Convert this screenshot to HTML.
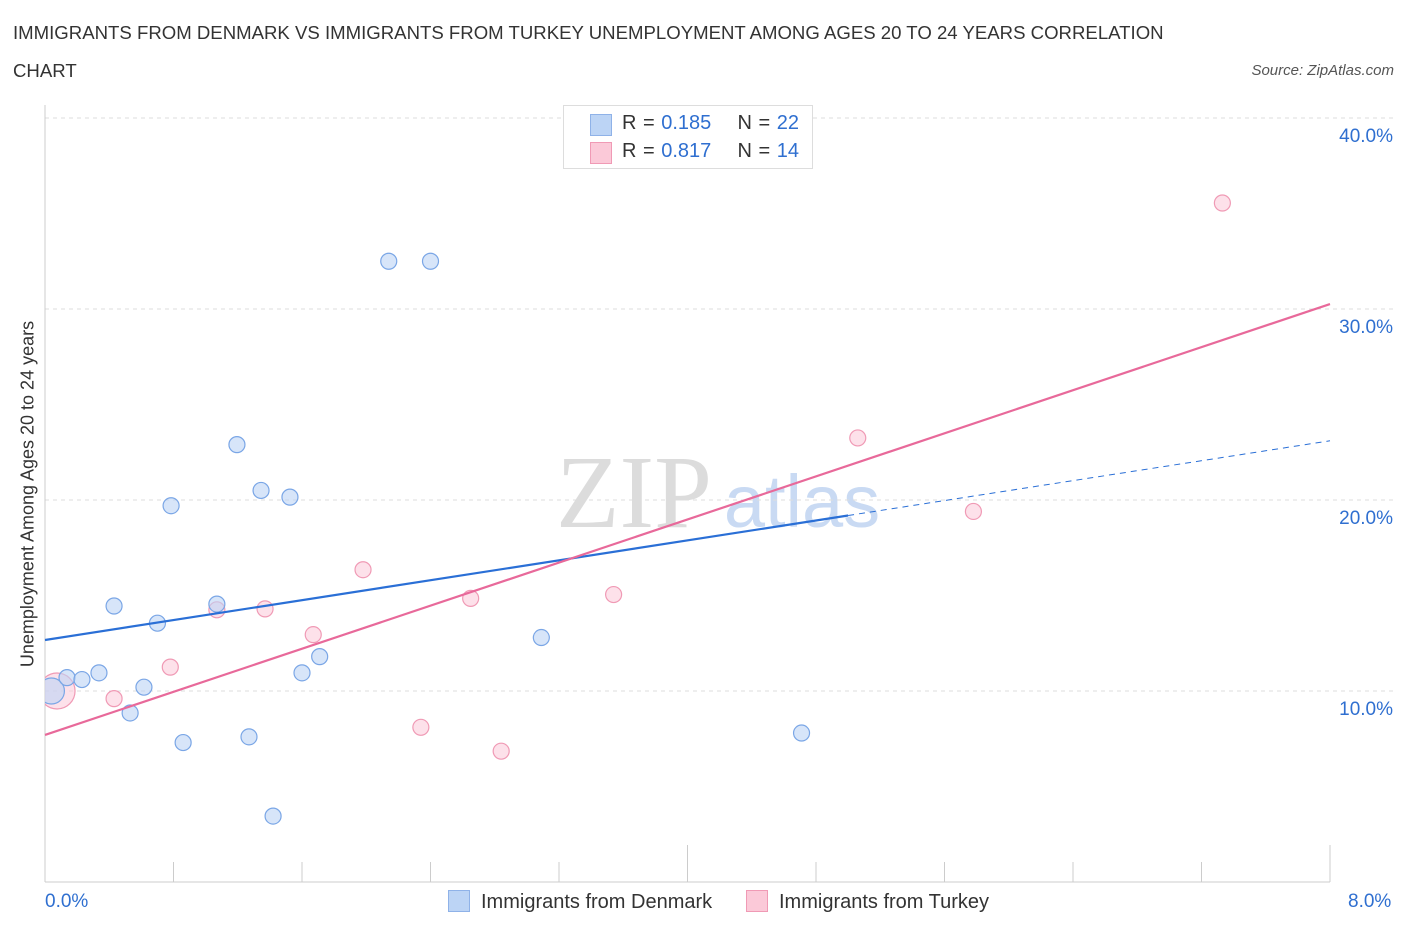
<!DOCTYPE html>
<html><head><meta charset="utf-8">
<style>
body{margin:0;background:#fff;font-family:"Liberation Sans",sans-serif;}
#wrap{position:relative;width:1406px;height:930px;overflow:hidden;}
.t{position:absolute;white-space:nowrap;}
</style></head><body>
<div id="wrap">
<div class="t" style="left:13px;top:14px;font-size:18.6px;color:#333;line-height:38px;">IMMIGRANTS FROM DENMARK VS IMMIGRANTS FROM TURKEY UNEMPLOYMENT AMONG AGES 20 TO 24 YEARS CORRELATION<br>CHART</div>
<div class="t" style="right:12px;top:62px;font-size:15px;font-style:italic;color:#555;">Source: ZipAtlas.com</div>
<svg id="svg" width="1406" height="930" style="position:absolute;left:0;top:0"></svg>
<div class="t" style="left:563px;top:105px;width:248px;height:62px;border:1px solid #ddd;background:#fff;font-size:20px;color:#333;">
 <div style="position:absolute;left:26px;top:8px;width:20px;height:20px;background:#bcd4f5;border:1px solid #8fb2e8;"></div>
 <div style="position:absolute;left:58px;top:6px;word-spacing:1px;">R = <span style="color:#2f6fd0">0.185</span>&nbsp;&nbsp;&nbsp;&nbsp;N = <span style="color:#2f6fd0">22</span></div>
 <div style="position:absolute;left:26px;top:36px;width:20px;height:20px;background:#fbc9d8;border:1px solid #f09ab5;"></div>
 <div style="position:absolute;left:58px;top:34px;word-spacing:1px;">R = <span style="color:#2f6fd0">0.817</span>&nbsp;&nbsp;&nbsp;&nbsp;N = <span style="color:#2f6fd0">14</span></div>
</div>
<div class="t" style="left:28px;top:494px;font-size:18px;color:#333;transform:translate(-50%,-50%) rotate(-90deg);">Unemployment Among Ages 20 to 24 years</div>
<div class="t" style="left:45px;top:891px;font-size:19px;color:#2f6fd0;">0.0%</div>
<div class="t" style="left:1348px;top:891px;font-size:19px;color:#2f6fd0;">8.0%</div>
<div class="t" style="left:448px;top:890px;font-size:20px;color:#333;"><span style="display:inline-block;width:20px;height:20px;background:#bcd4f5;border:1px solid #8fb2e8;vertical-align:-4px;margin-right:11px;"></span>Immigrants from Denmark</div>
<div class="t" style="left:746px;top:890px;font-size:20px;color:#333;"><span style="display:inline-block;width:20px;height:20px;background:#fbc9d8;border:1px solid #f09ab5;vertical-align:-4px;margin-right:11px;"></span>Immigrants from Turkey</div>
</div>
<script>
const yTicks=[10,20,30,40];
const yTickLabels=["10.0%","20.0%","30.0%","40.0%"];
const xTicks=[0,0.8,1.6,2.4,3.2,4.0,4.8,5.6,6.4,7.2,8.0];
const denX=[0.04,0.137,0.23,0.336,0.43,0.53,0.616,0.70,0.785,0.86,1.07,1.195,1.27,1.345,1.42,1.525,1.60,1.71,2.14,2.40,3.09,4.71];
const denY=[10.0,10.7,10.6,10.95,14.45,8.85,10.2,13.55,19.7,7.3,14.55,22.9,7.6,20.5,3.45,20.15,10.95,11.8,32.5,32.5,12.8,7.8];
const turX=[0.075,0.43,0.78,1.07,1.37,1.67,1.98,2.34,2.65,2.84,3.54,5.06,5.78,7.33];
const turY=[10.0,9.6,11.25,14.25,14.3,12.95,16.35,8.1,14.85,6.85,15.05,23.25,19.4,35.55];
const denTrend=[12.67,23.1];
const turTrend=[7.7,30.26];
const X0=45,X1=1330,Y0=882,PER=19.1;
const sx=v=>X0+(X1-X0)*v/8;
const sy=v=>Y0-PER*v;
const svg=document.getElementById('svg');
const NS='http://www.w3.org/2000/svg';
function mk(t,a){const e=document.createElementNS(NS,t);for(const k in a)e.setAttribute(k,a[k]);svg.appendChild(e);return e;}
const defs=mk('defs',{});
const cp=document.createElementNS(NS,'clipPath');cp.setAttribute('id','clip');
const cr=document.createElementNS(NS,'rect');cr.setAttribute('x',X0);cr.setAttribute('y',100);cr.setAttribute('width',1300);cr.setAttribute('height',782);
cp.appendChild(cr);defs.appendChild(cp);
let wm=mk('text',{x:634,y:527,'font-size':104,'font-family':'Liberation Serif,serif',fill:'#dcdcdc','text-anchor':'middle'});wm.textContent='ZIP';


let wm2=mk('text',{x:802,y:527,'font-size':74,'font-family':'Liberation Sans,sans-serif',fill:'#c9daf3','text-anchor':'middle'});wm2.textContent='atlas';


yTicks.forEach((v,i)=>{
 const g=mk('line',{x1:X0,x2:1395,y1:sy(v),y2:sy(v),stroke:'#ddd','stroke-dasharray':'4,4'});
 
 
 const t=mk('text',{x:1393,y:sy(v)+24,'font-size':19,fill:'#2f6fd0','text-anchor':'end','font-family':'Liberation Sans,sans-serif'});
 t.textContent=yTickLabels[i];
 
 
});
let ax=mk('line',{x1:X0,x2:X1,y1:Y0,y2:Y0,stroke:'#ccc'});


let ay=mk('line',{x1:X0,x2:X0,y1:105,y2:Y0,stroke:'#ccc'});


xTicks.forEach((v,i)=>{
 const l=mk('line',{x1:sx(v),x2:sx(v),y1:(i%5==0)?845:862,y2:Y0,stroke:'#ccc'});
 
 
});
function pts(xs,ys,fill,stroke,name,bigR){
 xs.forEach((x,i)=>{
  const c=mk('circle',{cx:sx(x),cy:sy(ys[i]),r:i==0?bigR:8,fill:fill,stroke:stroke,'stroke-width':1.2,'clip-path':'url(#clip)'});
  
  
 });
}
pts(turX,turY,'rgba(251,201,216,0.55)','#f09ab5','turkey-point',18);
pts(denX,denY,'rgba(188,212,245,0.6)','#7aa6e6','denmark-point',13);
const dMid=denTrend[0]+(denTrend[1]-denTrend[0])*5/8;
let l1=mk('line',{x1:sx(0),y1:sy(denTrend[0]),x2:sx(5),y2:sy(dMid),stroke:'#2a6fd6','stroke-width':2.2});


let l2=mk('line',{x1:sx(5),y1:sy(dMid),x2:sx(8),y2:sy(denTrend[1]),stroke:'#2a6fd6','stroke-width':1,'stroke-dasharray':'6,5'});


let l3=mk('line',{x1:sx(0),y1:sy(turTrend[0]),x2:sx(8),y2:sy(turTrend[1]),stroke:'#e8699a','stroke-width':2.2});


</script>
</body></html>
